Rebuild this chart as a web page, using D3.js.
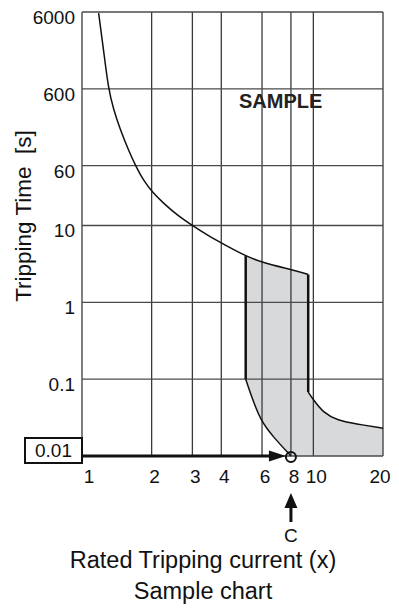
<!DOCTYPE html>
<html>
<head>
<meta charset="utf-8">
<script src="https://cdn.jsdelivr.net/npm/d3@7"></script>
<style>
  body { margin: 0; background: #fff; }
  text { font-family: "Liberation Sans", Arial, sans-serif; fill: #111; }
</style>
</head>
<body>
<script>
// data
var xTicks = [1, 2, 3, 4, 6, 8, 10, 20]
var yTicks = [6000, 600, 60, 10, 1, 0.1, 0.01]

// main tripping curve (x multiple, seconds)
var mainX = [1.18, 1.24, 1.3, 1.37, 1.46, 1.586, 1.725, 1.84, 2.02, 2.25, 2.57, 2.98, 3.58, 4.1, 5.1, 6.0, 8.3, 9.5]
var mainT = [5800, 1900, 600, 320, 180, 96, 55.5, 39, 26.7, 19.5, 13.7, 10.1, 7.1, 5.7, 4.0, 3.3, 2.6, 2.3]

// lower left edge of the band
var lowLeftX = [5.1, 5.34, 5.9, 6.71, 8]
var lowLeftT = [0.1, 0.066, 0.029, 0.0177, 0.01]

// lower right edge of the band
var rightX = [9.5, 10, 11, 12.7, 15.5, 20]
var rightT = [0.068, 0.054, 0.037, 0.029, 0.026, 0.023]

var pickX = 8
var pickT = 0.01

var drawChart = function(){

  var screen = {width: 399, height: 614}
  var margin = {top: 12, right: 16, bottom: 158, left: 82}

  var svg = d3.select('body').append('svg')
    .attr('width', screen.width)
    .attr('height', screen.height)
    .attr('class', 'mainchart')
    .style('display', 'block')

  // scale
  var xScale = d3.scaleLog()
    .domain([1, 20])
    .range([margin.left, screen.width - margin.right])

  var yScale = d3.scaleLog()
    .domain([0.01, 6000])
    .range([screen.height - margin.bottom, margin.top])

  var pts = function(xs, ts){
    return xs.map(function(d, i){ return [d, ts[i]] })
  }
  var mainPts = pts(mainX, mainT)
  var lowLeftPts = pts(lowLeftX, lowLeftT)
  var rightPts = pts(rightX, rightT)
  var bandLeft = lowLeftX[0]
  var bandRight = rightX[0]

  var line = d3.line()
    .x(function(d){ return xScale(d[0]) })
    .y(function(d){ return yScale(d[1]) })
    .curve(d3.curveBasis)

  // shaded band
  var topPts = mainPts.filter(function(d){ return d[0] >= bandLeft })
  var bandPath = line(topPts)
    + line(rightPts).replace(/^M/, 'L')
    + 'L' + xScale(20) + ',' + yScale(0.01)
    + line(lowLeftPts.slice().reverse()).replace(/^M/, 'L')
    + 'Z'

  svg.append('path')
    .attr('d', bandPath)
    .attr('fill', '#d8d9db')
    .attr('stroke', 'none')

  // grid
  svg.append('g')
    .attr('class', 'xgrid')
    .selectAll('line')
    .data(xTicks)
    .enter()
    .append('line')
    .attr('x1', function(d){ return xScale(d) })
    .attr('x2', function(d){ return xScale(d) })
    .attr('y1', yScale(6000))
    .attr('y2', yScale(0.01))
    .attr('stroke', '#3a3a3a')
    .attr('stroke-width', 1.3)

  svg.append('g')
    .attr('class', 'ygrid')
    .selectAll('line')
    .data(yTicks)
    .enter()
    .append('line')
    .attr('x1', xScale(1))
    .attr('x2', xScale(20))
    .attr('y1', function(d){ return yScale(d) })
    .attr('y2', function(d){ return yScale(d) })
    .attr('stroke', '#4a4a4a')
    .attr('stroke-width', 1.3)

  // curves
  svg.append('path')
    .attr('d', line(mainPts))
    .attr('fill', 'none')
    .attr('stroke', '#111')
    .attr('stroke-width', 1.5)

  svg.append('path')
    .attr('d', line(lowLeftPts))
    .attr('fill', 'none')
    .attr('stroke', '#111')
    .attr('stroke-width', 1.5)

  svg.append('path')
    .attr('d', line(rightPts))
    .attr('fill', 'none')
    .attr('stroke', '#111')
    .attr('stroke-width', 1.5)

  // band vertical edges
  svg.append('line')
    .attr('x1', xScale(bandLeft))
    .attr('x2', xScale(bandLeft))
    .attr('y1', yScale(topPts[0][1]))
    .attr('y2', yScale(lowLeftT[0]))
    .attr('stroke', '#111')
    .attr('stroke-width', 2.5)

  svg.append('line')
    .attr('x1', xScale(bandRight))
    .attr('x2', xScale(bandRight))
    .attr('y1', yScale(mainT[mainT.length - 1]))
    .attr('y2', yScale(rightT[0]))
    .attr('stroke', '#111')
    .attr('stroke-width', 2.5)

  // y labels
  svg.append('g')
    .attr('class', 'ylabels')
    .selectAll('text')
    .data(yTicks.slice(0, -1))
    .enter()
    .append('text')
    .attr('text-anchor', 'end')
    .attr('x', margin.left - 7)
    .attr('y', function(d){ return yScale(d) + 12 })
    .style('font-size', '19px')
    .text(function(d){ return d })

  // x labels
  svg.append('g')
    .attr('class', 'xlabels')
    .selectAll('text')
    .data(xTicks)
    .enter()
    .append('text')
    .attr('text-anchor', 'middle')
    .attr('x', function(d){ return xScale(d) + (d == 1 ? 7 : d == 20 ? -3 : 3) })
    .attr('y', yScale(0.01) + 27)
    .style('font-size', '19px')
    .text(function(d){ return d })

  // boxed 0.01
  var y0 = yScale(pickT)
  svg.append('rect')
    .attr('x', 25)
    .attr('y', y0 - 18)
    .attr('width', margin.left - 25)
    .attr('height', 25)
    .attr('fill', '#fff')
    .attr('stroke', '#111')
    .attr('stroke-width', 2)

  svg.append('text')
    .attr('text-anchor', 'middle')
    .attr('x', (25 + margin.left) / 2)
    .attr('y', y0 + 1)
    .style('font-size', '19px')
    .text(pickT)

  // arrow to pick point
  var px = xScale(pickX)
  svg.append('line')
    .attr('x1', margin.left)
    .attr('x2', px - 20)
    .attr('y1', y0)
    .attr('y2', y0)
    .attr('stroke', '#111')
    .attr('stroke-width', 3)

  svg.append('path')
    .attr('d', 'M' + (px - 5) + ',' + y0 + 'L' + (px - 22) + ',' + (y0 - 5.5) + 'L' + (px - 22) + ',' + (y0 + 5.5) + 'Z')
    .attr('fill', '#111')

  svg.append('circle')
    .attr('cx', px)
    .attr('cy', y0 + 1)
    .attr('r', 5)
    .attr('fill', 'none')
    .attr('stroke', '#111')
    .attr('stroke-width', 2)

  // up arrow + C
  svg.append('line')
    .attr('x1', px)
    .attr('x2', px)
    .attr('y1', y0 + 50)
    .attr('y2', y0 + 66)
    .attr('stroke', '#111')
    .attr('stroke-width', 3)

  svg.append('path')
    .attr('d', 'M' + px + ',' + (y0 + 37) + 'L' + (px - 6.5) + ',' + (y0 + 52) + 'L' + (px + 6.5) + ',' + (y0 + 52) + 'Z')
    .attr('fill', '#111')

  svg.append('text')
    .attr('text-anchor', 'middle')
    .attr('x', px)
    .attr('y', y0 + 86)
    .style('font-size', '19px')
    .text('C')

  // titles
  svg.append('text')
    .attr('text-anchor', 'middle')
    .attr('x', 203)
    .attr('y', 568)
    .style('font-size', '23.5px')
    .text('Rated Tripping current (x)')

  svg.append('text')
    .attr('text-anchor', 'middle')
    .attr('x', 203)
    .attr('y', 599)
    .style('font-size', '23.5px')
    .text('Sample chart')

  svg.append('text')
    .attr('text-anchor', 'middle')
    .attr('transform', 'translate(31,216) rotate(-90)')
    .style('font-size', '22.5px')
    .style('white-space', 'pre')
    .text('Tripping Time  [s]')

  svg.append('text')
    .attr('x', 239)
    .attr('y', 108)
    .style('font-size', '20px')
    .style('font-weight', 'bold')
    .style('fill', '#222')
    .text('SAMPLE')

}

drawChart()
</script>
</body>
</html>
